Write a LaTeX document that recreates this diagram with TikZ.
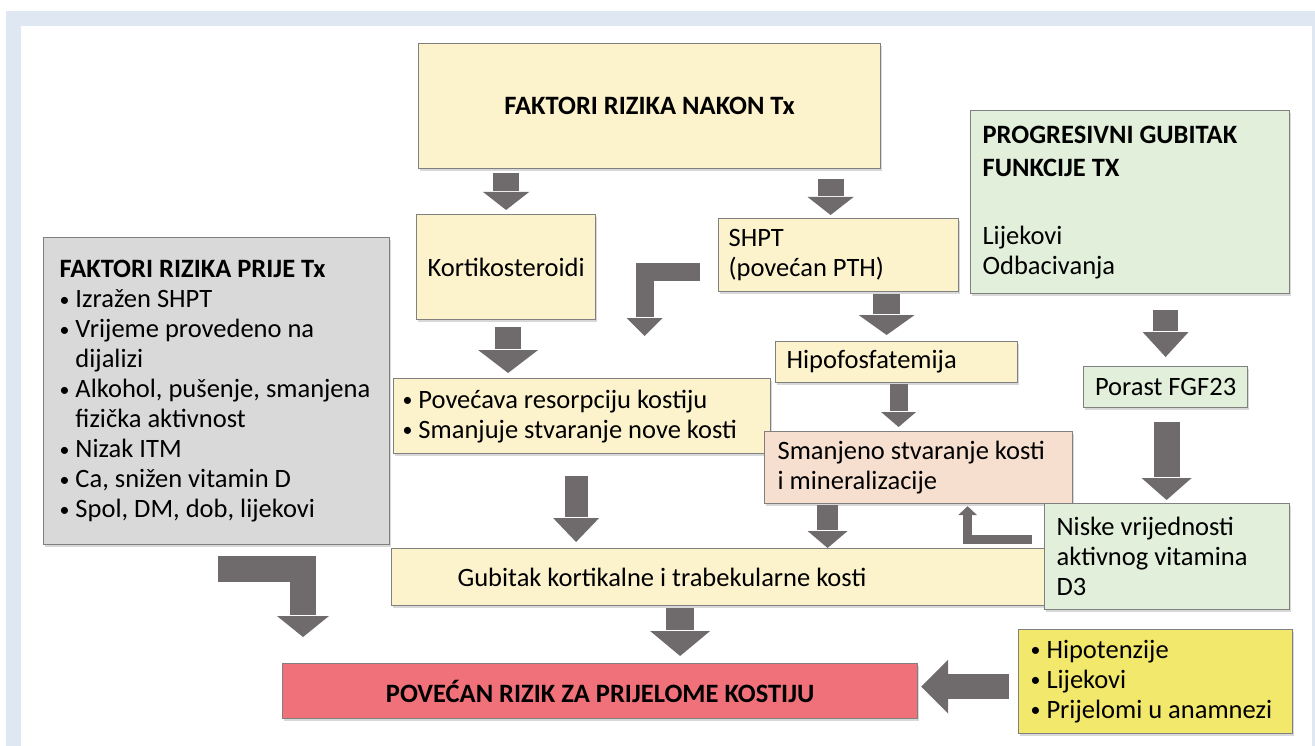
\documentclass[tikz,border=0pt]{standalone}
\usepackage{fontspec}
\usepackage{graphicx}
\setmainfont{Carlito}
\usetikzlibrary{calc,shadows}

\definecolor{framebg}{RGB}{223,231,243}
\definecolor{boxline}{RGB}{128,128,128}
\definecolor{paleyellow}{RGB}{252,242,204}
\definecolor{palegrey}{RGB}{217,217,217}
\definecolor{palegreen}{RGB}{226,239,218}
\definecolor{palepeach}{RGB}{247,223,208}
\definecolor{riskred}{RGB}{240,113,121}
\definecolor{brightyellow}{RGB}{242,232,108}
\definecolor{arrowgrey}{RGB}{111,107,109}

\tikzset{
  box/.style={draw=boxline, line width=1.2pt, anchor=north west, inner ysep=0pt,
    drop shadow={shadow xshift=1pt, shadow yshift=-2pt, opacity=.3}},
  cbox/.style 2 args={box, inner xsep=0pt, minimum width=#1, minimum height=#2, align=center},
  shaft/.style={draw=arrowgrey, line width=#1, line join=miter}
}

% list bullet and the indent of a wrapped item
\newcommand{\bul}{\raisebox{1.5pt}{\scalebox{0.75}{•}}\ }
\newcommand{\bulsp}{\phantom{\bul}}

% block arrow pointing down: start, tip, shaft width, half head, head length
\newcommand{\blockdown}[5]{%
  \draw[shaft=#3] (#1) -- ($(#2)+(0,-#5-1)$);
  \fill[arrowgrey] (#2) -- ++(-#4,-#5) -- ++(2*#4,0) -- cycle;}

\begin{document}
\begin{tikzpicture}[x=1pt,y=-1pt,font=\fontsize{26.5}{30}\selectfont]
\useasboundingbox (0,0) rectangle (1315,746);
\fill[framebg] (6,11) rectangle (1315,746);
\fill[white] (21,26) rectangle (1312,746);

% boxes
\node[cbox={462pt}{125pt}, fill=paleyellow] (nakon) at (418,43) {\textbf{FAKTORI RIZIKA NAKON Tx}};
\node[box, fill=palegreen, inner xsep=12pt, text width=295pt, minimum height=183pt, align=flush left] (prog) at (970,110)
  {\textbf{PROGRESIVNI GUBITAK}\\[3pt]\textbf{FUNKCIJE TX}\\[38pt]Lijekovi\\Odbacivanja};
\node[cbox={179pt}{105pt}, fill=paleyellow] (kort) at (416,214) {Kortikosteroidi};
\node[box, fill=paleyellow, inner xsep=10pt, text width=220pt, minimum height=73pt, align=flush left] (shpt) at (718,218)
  {SHPT\\(povećan PTH)};
\node[box, fill=palegrey, inner xsep=16pt, text width=314pt, minimum height=307pt, align=flush left] (grey) at (43,237)
  {\textbf{FAKTORI RIZIKA PRIJE Tx}\\
   \bul Izražen SHPT\\
   \bul Vrijeme provedeno na\\
   \bulsp dijalizi\\
   \bul Alkohol, pušenje, smanjena\\
   \bulsp fizička aktivnost\\
   \bul Nizak ITM\\
   \bul Ca, snižen vitamin D\\
   \bul Spol, DM, dob, lijekovi};
\node[box, fill=paleyellow, inner xsep=11pt, text width=220pt, minimum height=41pt, align=flush left] (hipo) at (775,341)
  {Hipofosfatemija};
\node[cbox={164pt}{41pt}, fill=palegreen] (porast) at (1083,366) {Porast FGF23};
\node[box, fill=paleyellow, inner xsep=9pt, text width=359pt, minimum height=75pt, align=flush left] (pov) at (393,378)
  {\bul Povećava resorpciju kostiju\\\bul Smanjuje stvaranje nove kosti};
\node[box, fill=palepeach, inner xsep=13pt, text width=282pt, minimum height=72pt, align=flush left] (smanj) at (764,431)
  {Smanjeno stvaranje kosti\\i mineralizacije};
\node[box, fill=paleyellow, inner xsep=66pt, text width=527pt, minimum height=57pt, align=flush left] (gub) at (391,548)
  {Gubitak kortikalne i trabekularne kosti};
\node[box, fill=palegreen, inner xsep=12pt, text width=221pt, minimum height=106pt, align=flush left] (niske) at (1044,503)
  {Niske vrijednosti\\aktivnog vitamina\\D3};
\node[cbox={635pt}{55pt}, fill=riskred] (red) at (282,663) {\textbf{POVEĆAN RIZIK ZA PRIJELOME KOSTIJU}};
\node[box, fill=brightyellow, inner xsep=12pt, text width=250pt, minimum height=104pt, align=flush left] (hipot) at (1018,629)
  {\bul Hipotenzije\\\bul Lijekovi\\\bul Prijelomi u anamnezi};

% straight arrows
\coordinate (a1s) at ($(kort.north |- nakon.south)+(0,4)$);
\coordinate (a1t) at ($(a1s |- kort.north)+(0,-4)$);
\blockdown{a1s}{a1t}{26pt}{23}{18}
\coordinate (a2s) at ($(shpt.north |- nakon.south)+(-8,10)$);
\coordinate (a2t) at ($(a2s |- shpt.north)+(0,-3)$);
\blockdown{a2s}{a2t}{26pt}{23}{18}
\coordinate (a3s) at ($(kort.south)+(2,7)$);
\coordinate (a3t) at ($(a3s |- pov.north)+(0,-5)$);
\blockdown{a3s}{a3t}{26pt}{30}{23}
\coordinate (a4s) at ($(shpt.south)+(48,2)$);
\coordinate (a4t) at ($(a4s |- hipo.north)+(0,-6)$);
\blockdown{a4s}{a4t}{27pt}{28}{20}
\coordinate (a5s) at ($(porast.north |- prog.south)+(0,16)$);
\coordinate (a5t) at ($(porast.north)+(0,-9)$);
\blockdown{a5s}{a5t}{25pt}{23}{25}
\coordinate (a6s) at ($(hipo.south)+(2,1)$);
\coordinate (a6t) at ($(a6s |- smanj.north)+(0,-4)$);
\blockdown{a6s}{a6t}{18pt}{17.5}{15}
\coordinate (a7s) at ($(porast.south)+(1,14)$);
\coordinate (a7t) at ($(a7s |- niske.north)+(0,-3)$);
\blockdown{a7s}{a7t}{26pt}{25}{22}
\coordinate (a8s) at ($(pov.south)+(-6,22)$);
\coordinate (a8t) at ($(a8s |- gub.north)+(0,-6)$);
\blockdown{a8s}{a8t}{23pt}{23}{24}
\coordinate (a9s) at ($(smanj.south)+(-91,1)$);
\coordinate (a9t) at (a9s |- gub.north);
\blockdown{a9s}{a9t}{21pt}{20}{17}
\coordinate (a10s) at ($(red.north |- gub.south)+(80,2)$);
\coordinate (a10t) at ($(a10s |- red.north)+(0,-7)$);
\blockdown{a10s}{a10t}{28pt}{30}{25}

% arrow into the red box from the right
\coordinate (l1s) at ($(hipot.west)+(-9,5)$);
\coordinate (l1t) at ($(l1s -| red.east)+(3,0)$);
\draw[shaft=25pt] (l1s) -- ($(l1t)+(26,0)$);
\fill[arrowgrey] (l1t) -- ++(27,-27) -- ++(0,54) -- cycle;

% bent arrows
\coordinate (b1s) at ($(shpt.west)+(-18,17)$);
\coordinate (b1t) at ($(pov.north)+(62.5,-42)$);
\draw[shaft=18pt] (b1s) -- (b1s -| b1t) -- ($(b1t)+(0,-19)$);
\fill[arrowgrey] (b1t) -- ++(-18,-18) -- ++(36,0) -- cycle;
\coordinate (b2s) at ($(grey.south)+(1,24)$);
\coordinate (b2t) at ($(red.north west)+(21,-26)$);
\draw[shaft=26pt] (b2s) -- (b2s -| b2t) -- ($(b2t)+(0,-22)$);
\fill[arrowgrey] (b2t) -- ++(-26,-21) -- ++(52,0) -- cycle;
\coordinate (b3s) at ($(niske.west)+(-12,-17)$);
\coordinate (b3t) at ($(smanj.south)+(49,2)$);
\draw[shaft=9pt] (b3s) -- (b3s -| b3t) -- ($(b3t)+(0,8)$);
\fill[arrowgrey] (b3t) -- ++(-9.5,9) -- ++(19,0) -- cycle;
\end{tikzpicture}
\end{document}
